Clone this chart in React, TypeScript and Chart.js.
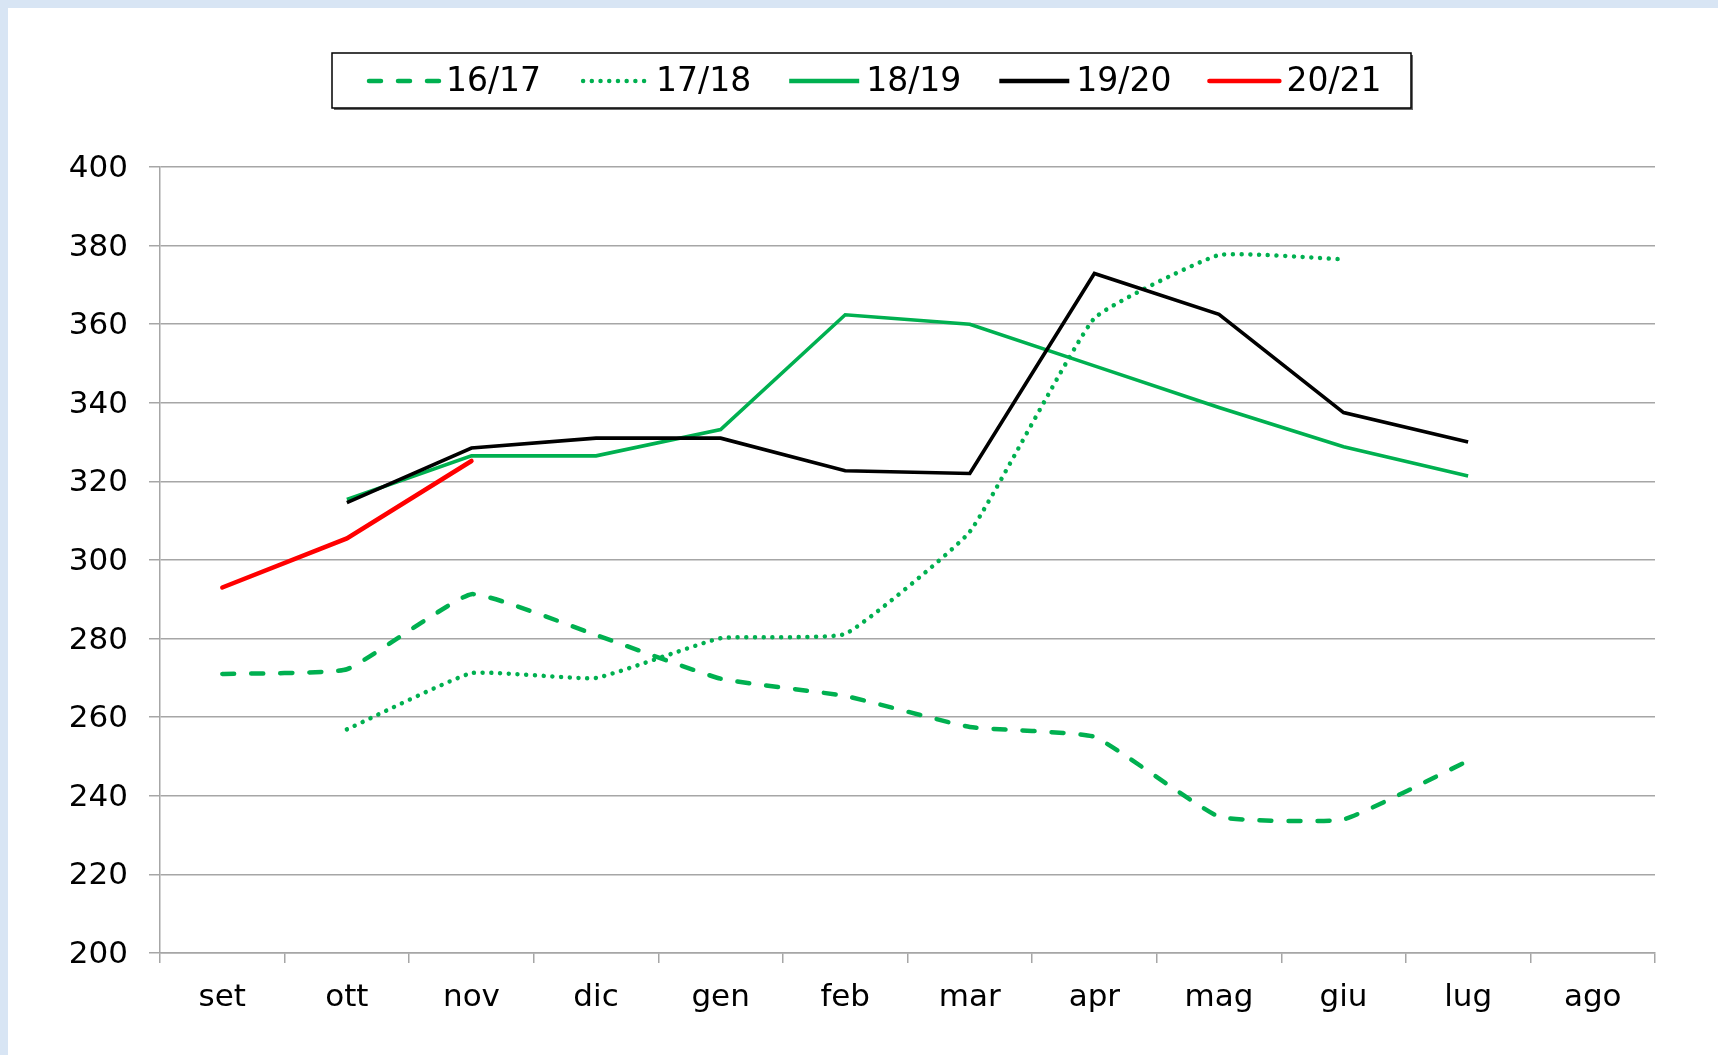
import React, { useEffect, useRef } from "react";
import { Chart, registerables } from "chart.js";

Chart.register(...registerables);

const months = ["set", "ott", "nov", "dic", "gen", "feb", "mar", "apr", "mag", "giu", "lug", "ago"];
const seriesLabels = ["16/17", "17/18", "18/19", "19/20", "20/21"];

const s1617 = [271.0, 272.2, 291.3, 280.9, 269.8, 265.4, 257.5, 255.0, 234.7, 234.0, 248.9, null];
const s1718 = [null, 256.9, 271.2, 270.0, 280.1, 281.2, 307.2, 361.5, 377.6, 376.5, null, null];
const s1819 = [null, 315.4, 326.5, 326.5, 333.2, 362.4, 360.0, 349.4, 338.8, 328.8, 321.4, null];
const s1920 = [null, 314.6, 328.5, 331.0, 331.0, 322.7, 322.0, 372.9, 362.5, 337.5, 330.0, null];
const s2021 = [293.0, 305.5, 325.2, null, null, null, null, null, null, null, null, null];

const yMin = 200;
const yMax = 400;
const yStep = 20;

const GREEN = "#00B050";
const GRID = "#a6a6a6";
const FONT = "'DejaVu Sans', Verdana, sans-serif";

const W = 1710;
const H = 1047;

const boxLegend = {
  id: "boxLegend",
  afterDraw(chart: any) {
    const ctx = chart.ctx as CanvasRenderingContext2D;
    const bx = 324, by = 45, bw = 1079, bh = 55;
    ctx.save();
    ctx.fillStyle = "#ffffff";
    ctx.fillRect(bx, by, bw, bh);
    ctx.fillStyle = "#6b6b6b";
    ctx.fillRect(bx + 2, by + bh, bw, 2);
    ctx.fillRect(bx + bw, by + 2, 2, bh);
    ctx.strokeStyle = "#000000";
    ctx.lineWidth = 1.5;
    ctx.strokeRect(bx, by, bw, bh);
    ctx.font = `33px ${FONT}`;
    ctx.textBaseline = "middle";
    ctx.textAlign = "left";
    const cy = 73;
    let x = 361;
    chart.data.datasets.forEach((ds: any) => {
      ctx.beginPath();
      ctx.setLineDash(ds.borderDash || []);
      ctx.lineCap = ds.borderCapStyle || "butt";
      ctx.strokeStyle = ds.borderColor;
      ctx.lineWidth = 4.5;
      const inset = ds.borderDash && ds.borderDash[0] < 1 ? 4 : 0;
      ctx.moveTo(x + inset, cy);
      ctx.lineTo(x + 70 - inset, cy);
      ctx.stroke();
      ctx.setLineDash([]);
      ctx.fillStyle = "#000000";
      ctx.fillText(ds.label, x + 77, cy + 1);
      const tw = ctx.measureText(ds.label).width;
      x += 77 + tw + 38;
    });
    ctx.restore();
  },
};

export default function App() {
  const ref = useRef<HTMLCanvasElement | null>(null);

  useEffect(() => {
    document.documentElement.style.background = "#d8e5f4";
    document.documentElement.style.overflow = "hidden";
    const canvas = ref.current;
    if (!canvas) return;
    const chart = new Chart(canvas, {
      type: "line",
      data: {
        labels: months,
        datasets: [
          {
            label: seriesLabels[0],
            data: s1617,
            borderColor: GREEN,
            borderWidth: 4.5,
            borderDash: [12, 17],
            borderCapStyle: "round",
            tension: 0.12,
            pointRadius: 0,
            order: 4,
          },
          {
            label: seriesLabels[1],
            data: s1718,
            borderColor: GREEN,
            borderWidth: 4.5,
            borderDash: [0.01, 8.7],
            borderCapStyle: "round",
            tension: 0.12,
            pointRadius: 0,
            order: 3,
          },
          {
            label: seriesLabels[2],
            data: s1819,
            borderColor: GREEN,
            borderWidth: 3.6,
            pointRadius: 0,
            tension: 0,
            order: 2,
          },
          {
            label: seriesLabels[3],
            data: s1920,
            borderColor: "#000000",
            borderWidth: 3.6,
            pointRadius: 0,
            tension: 0,
            order: 1,
          },
          {
            label: seriesLabels[4],
            data: s2021,
            borderColor: "#ff0000",
            borderWidth: 4.5,
            borderCapStyle: "round",
            pointRadius: 0,
            tension: 0,
            order: 0,
          },
        ] as any,
      },
      options: {
        animation: false,
        responsive: false,
        devicePixelRatio: 1,
        layout: { padding: { top: 159, right: 63, left: 0, bottom: 0 } },
        plugins: {
          legend: { display: false },
          tooltip: { enabled: false },
          title: { display: false },
        },
        scales: {
          x: {
            type: "category",
            offset: true,
            grid: {
              offset: true,
              drawOnChartArea: false,
              drawTicks: true,
              tickLength: 10,
              color: GRID,
              lineWidth: 1.5,
            },
            border: { display: true, color: GRID, width: 1.5 },
            ticks: {
              color: "#000000",
              font: { family: FONT, size: 31 },
              padding: 16,
              maxRotation: 0,
              autoSkip: false,
            },
            afterFit: (scale: any) => {
              scale.height = 102;
            },
          },
          y: {
            min: yMin,
            max: yMax,
            ticks: {
              stepSize: yStep,
              color: "#000000",
              font: { family: FONT, size: 31 },
              padding: 21,
              labelOffset: 2,
            },
            grid: {
              color: GRID,
              lineWidth: 1.5,
              drawTicks: true,
              tickLength: 11,
            },
            border: { display: true, color: GRID, width: 1.5 },
            afterFit: (scale: any) => {
              scale.width = 152;
            },
          },
        },
      } as any,
      plugins: [boxLegend],
    });
    return () => chart.destroy();
  }, []);

  return (
    <div
      style={{
        position: "fixed",
        left: 8,
        top: 8,
        right: 0,
        bottom: 0,
        background: "#ffffff",
        overflow: "hidden",
      }}
    >
      <canvas ref={ref} width={W} height={H} style={{ display: "block", width: W, height: H }} />
    </div>
  );
}
